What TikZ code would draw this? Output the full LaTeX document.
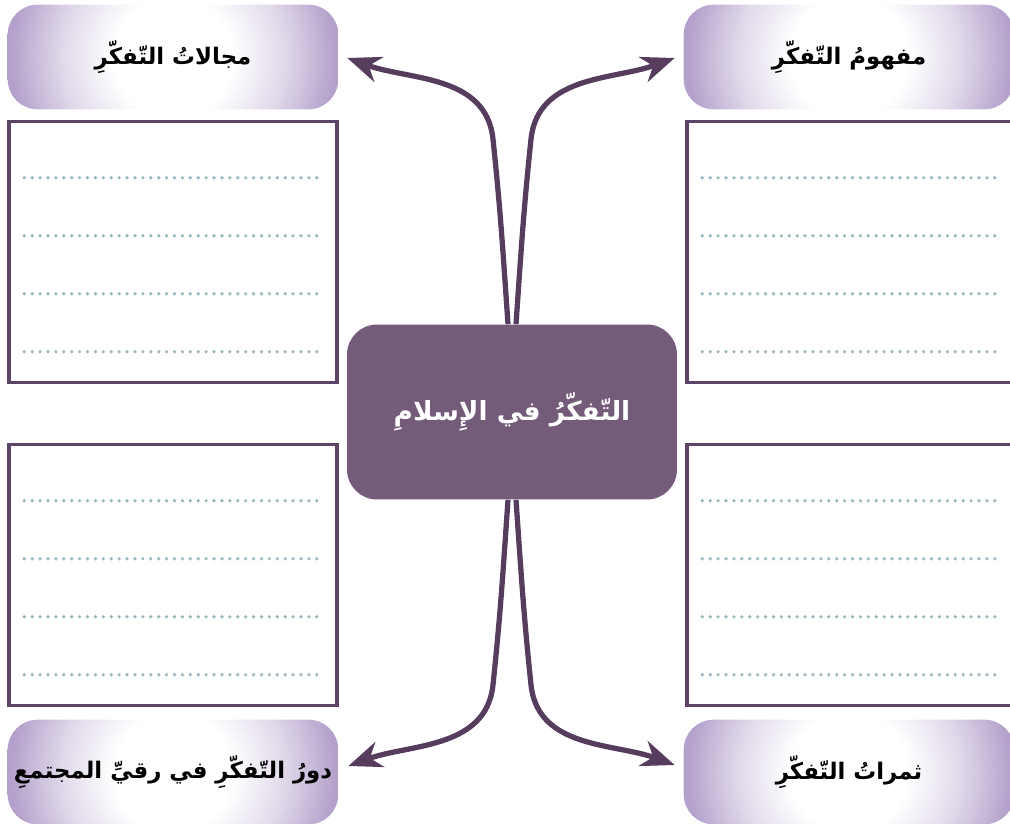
\documentclass[tikz,border=0pt]{standalone}
\usepackage{fontspec}
\newfontfamily\arabicfont[Script=Arabic]{DejaVu Sans}
\TeXXeTstate=1
\usetikzlibrary{arrows.meta,calc,positioning,backgrounds}
\definecolor{plum}{HTML}{735B79}
\definecolor{plumline}{HTML}{563D5E}
\definecolor{framecol}{HTML}{5B4466}
\definecolor{lavender}{HTML}{B3A0CB}
\definecolor{dotcol}{HTML}{9DB7C1}
\pgfdeclareradialshading{headshade}{\pgfpoint{0bp}{0bp}}{color(0bp)=(white); color(8bp)=(white); color(15bp)=(lavender!40); color(22bp)=(lavender); color(50bp)=(lavender)}

\begin{document}
\begin{tikzpicture}[x=0.02cm,y=-0.02cm,
headbox/.style={rounded corners=0.6cm,minimum width=6.6cm,minimum height=2.08cm,inner sep=0pt,
  font=\arabicfont\bfseries\fontsize{13}{15}\selectfont},
notebox/.style={draw=framecol,line width=2pt,minimum width=6.56cm,minimum height=5.22cm,inner sep=0pt},
dotline/.style={dotcol,line width=2.1pt,line cap=round,dash pattern=on 0pt off 4.5pt},
link/.style={plumline,line width=3pt,-{Stealth[length=19pt,width=15pt,inset=6pt]}}]

\useasboundingbox (0,0) rectangle (1010,824);
\clip (0,0) rectangle (1010,824);

\node[headbox] (h1) at (173,57) {\beginR مجالاتُ التّفكّرِ\endR};
\node[headbox] (h2) at (849,57) {\beginR مفهومُ التّفكّرِ\endR};
\node[headbox] (h3) at (173,772) {\beginR دورُ التّفكّرِ في رقيِّ المجتمعِ\endR};
\node[headbox] (h4) at (849,772) {\beginR ثمراتُ التّفكّرِ\endR};

% shaded backs of the four titles
\begin{scope}[on background layer]
\foreach \h in {h1,h2,h3,h4}{
  \begin{scope}
  \clip[rounded corners=0.6cm] (\h.north west) rectangle (\h.south east);
  \shade[shading=headshade] (\h.center) circle (3.7cm);
  \end{scope}
}
\end{scope}

\node[notebox] (b1) at (173,252) {};
\node[notebox] (b2) at (851,252) {};
\node[notebox] (b3) at (173,575) {};
\node[notebox] (b4) at (851,575) {};

\foreach \b in {b1,b2,b3,b4}
  \foreach \k in {1,...,4}
    \draw[dotline] ($(\b.north west)+(17,\k*58)$) -- ($(\b.north east)+(-17,\k*58)$);

\node[fill=plum,rounded corners=0.6cm,minimum width=6.6cm,minimum height=3.5cm,text=white,
  font=\arabicfont\bfseries\fontsize{15}{18}\selectfont] (c) at (512,412) {\beginR التّفكّرُ في الإِسلامِ\endR};

\draw[link] ($(c.north)+(-4,0)$) to[out=94,in=-84] ++(-15,-185) to[out=96,in=-20] ($(h1.east)+(9,1)$);
\draw[link] ($(c.north)+(4,0)$) to[out=86,in=-96] ++(15,-185) to[out=84,in=-160] ($(h2.west)+(-9,1)$);
\draw[link] ($(c.south)+(-4,0)$) to[out=-94,in=84] ++(-15,185) to[out=-96,in=20] ($(h3.east)+(10,-6)$);
\draw[link] ($(c.south)+(4,0)$) to[out=-86,in=96] ++(15,185) to[out=-84,in=160] ($(h4.west)+(-9,-7)$);

\end{tikzpicture}
\end{document}
